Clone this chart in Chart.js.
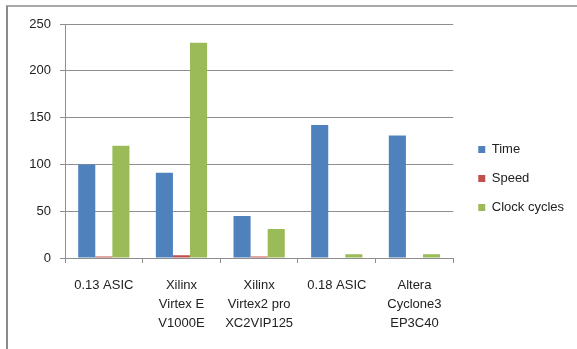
<!DOCTYPE html>
<html>
<head>
<meta charset="utf-8">
<script src="https://cdn.jsdelivr.net/npm/chart.js@4/dist/chart.umd.min.js"></script>
<style>
  html, body { margin: 0; padding: 0; background: #fff; }
  #wrap { position: relative; width: 577px; height: 349px; overflow: hidden; }
  #frame {
    position: absolute; left: 6px; top: 5px; right: -10px; bottom: -10px;
    border-left: 2px solid #8a8a8a; border-top: 2px solid #a8a8a8;
  }
  canvas { position: absolute; left: 0; top: 0; }
</style>
</head>
<body>
<div id="wrap">
  <div id="frame"></div>
  <canvas id="chart" width="577" height="349"></canvas>
</div>
<script>
const categories = [
  ['0.13 ASIC'],
  ['Xilinx', 'Virtex E', 'V1000E'],
  ['Xilinx', 'Virtex2 pro', 'XC2VIP125'],
  ['0.18 ASIC'],
  ['Altera', 'Cyclone3', 'EP3C40']
];
const timeValues = [100, 91, 45, 142, 131];
const speedValues = [1.5, 3, 1.5, 0, 0];
const clockValues = [120, 230, 31, 4, 4];
const yTicks = [0, 50, 100, 150, 200, 250];

const font = { family: 'Liberation Sans', size: 13 };
const gridGray = '#8e8e8e';

// nudge the legend to where Excel put it
const legendShift = {
  id: 'legendShift',
  afterLayout(chart) {
    const lg = chart.legend;
    lg.left += 9; lg.right += 9;
    lg.top -= 8; lg.bottom -= 8;
  }
};

new Chart(document.getElementById('chart').getContext('2d'), {
  type: 'bar',
  data: {
    labels: categories,
    datasets: [
      { label: 'Time', data: timeValues, backgroundColor: '#4f81bd' },
      { label: 'Speed', data: speedValues, backgroundColor: '#c0504d' },
      { label: 'Clock cycles', data: clockValues, backgroundColor: '#9bbb59' }
    ]
  },
  options: {
    responsive: false,
    animation: false,
    layout: { padding: { top: 24, right: 12, bottom: 0, left: 0 } },
    datasets: { bar: { categoryPercentage: 0.66, barPercentage: 1 } },
    plugins: {
      tooltip: { enabled: false },
      legend: {
        position: 'right',
        labels: { font, color: '#222', boxWidth: 7, boxHeight: 7, padding: 16 }
      }
    },
    scales: {
      x: {
        grid: { drawOnChartArea: false, drawTicks: true, tickLength: 5, color: gridGray },
        border: { color: gridGray },
        ticks: { font: { ...font, lineHeight: 1.45 }, color: '#222', padding: 13, maxRotation: 0, autoSkip: false },
        afterFit(scale) { scale.height = 91; }
      },
      y: {
        min: 0,
        max: 250,
        afterBuildTicks(scale) { scale.ticks = yTicks.map(v => ({ value: v })); },
        grid: { color: gridGray, tickLength: 5 },
        border: { color: gridGray },
        ticks: { font, color: '#222', padding: 9 },
        afterFit(scale) { scale.width = 65; }
      }
    }
  },
  plugins: [legendShift]
});
</script>
</body>
</html>
